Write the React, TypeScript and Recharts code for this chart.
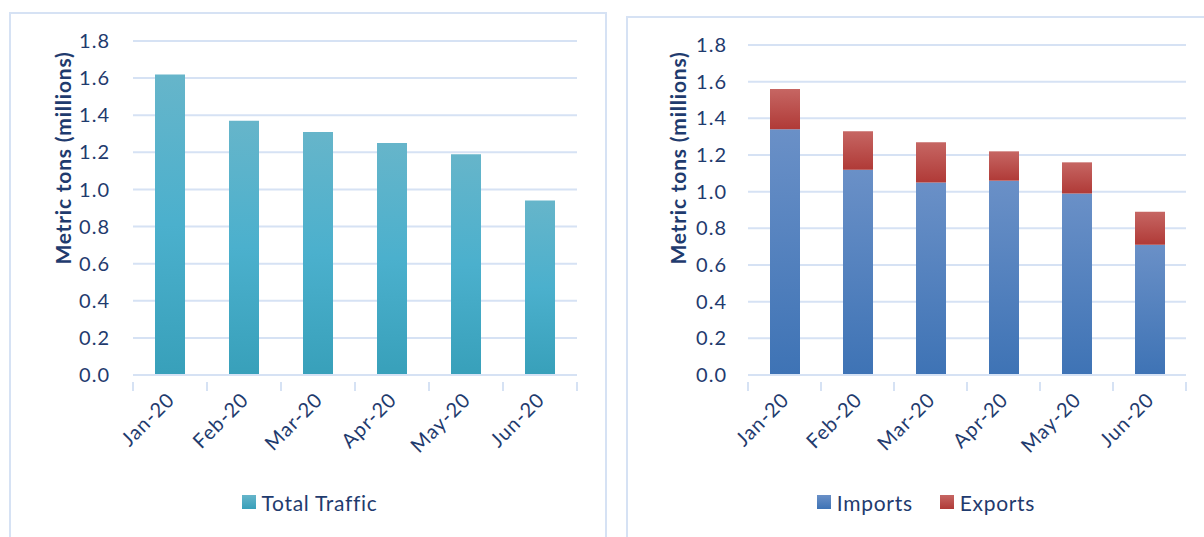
// Two panels: total traffic (left) and imports / exports stacked (right), Jan–Jun 2020.
import React from 'react';
import { BarChart, Bar, XAxis, YAxis, CartesianGrid, Legend } from 'recharts';

const months = ['Jan-20', 'Feb-20', 'Mar-20', 'Apr-20', 'May-20', 'Jun-20'];
const totalTraffic = [1.62, 1.37, 1.31, 1.25, 1.19, 0.94];
const imports = [1.34, 1.12, 1.05, 1.06, 0.99, 0.71];
const exports = [0.22, 0.21, 0.22, 0.16, 0.17, 0.18];
const yTicks = [0, 0.2, 0.4, 0.6, 0.8, 1.0, 1.2, 1.4, 1.6, 1.8];

const leftData = months.map((m, i) => ({ month: m, total: totalTraffic[i] }));
const rightData = months.map((m, i) => ({ month: m, imports: imports[i], exports: exports[i] }));

const FONT = 'Lato, "Open Sans", sans-serif';
const TEXT = '#1f3b6e';
const GRID = '#d6e2f4';

// axis tick: rotated label + boundary tick marks like Excel
const MonthTick = (props: any) => {
  const { x, y, payload, index, band } = props;
  const half = band / 2;
  const tx = x + 6;
  const ty = y + 18;
  return (
    <g>
      <line x1={x - half} y1={y - 1} x2={x - half} y2={y + 8} stroke={GRID} strokeWidth={2} />
      {index === months.length - 1 && (
        <line x1={x + half} y1={y - 1} x2={x + half} y2={y + 8} stroke={GRID} strokeWidth={2} />
      )}
      <text
        x={tx}
        y={ty}
        textAnchor="end"
        transform={`rotate(-45, ${tx}, ${ty})`}
        fill={TEXT}
        fontSize={20}
        letterSpacing={1}
        fontFamily={FONT}
      >
        {payload.value}
      </text>
    </g>
  );
};

const AxisTitle = (props: any) => {
  const { viewBox, dx, cy } = props;
  const x = viewBox.x + dx;
  return (
    <text
      x={x}
      y={cy}
      textAnchor="middle"
      dominantBaseline="central"
      transform={`rotate(-90, ${x}, ${cy})`}
      fill={TEXT}
      fontSize={21}
      letterSpacing={0.8}
      fontWeight="bold"
      fontFamily={FONT}
    >
      Metric tons (millions)
    </text>
  );
};

const LegendBox = ({ items }: { items: { label: string; grad: string }[] }) => (
  <div
    style={{
      display: 'flex',
      justifyContent: 'center',
      gap: 27,
      fontFamily: FONT,
      fontSize: 21,
      letterSpacing: 0.7,
      color: TEXT,
    }}
  >
    {items.map((it) => (
      <div key={it.label} style={{ display: 'flex', alignItems: 'flex-end', gap: 6 }}>
        <span style={{ width: 14, height: 14, background: it.grad, display: 'inline-block', marginBottom: 6 }} />
        <span>{it.label}</span>
      </div>
    ))}
  </div>
);

const panel: React.CSSProperties = {
  position: 'absolute',
  border: `2px solid ${GRID}`,
  boxSizing: 'border-box',
};

export default function App() {
  return (
    <div style={{ position: 'absolute', left: 0, top: 0, width: 1204, height: 537, background: '#fff', overflow: 'hidden' }}>
      <div style={{ ...panel, left: 9, top: 12, width: 598, height: 540 }} />
      <div style={{ ...panel, left: 626, top: 16, width: 590, height: 540 }} />

      <div style={{ position: 'absolute', left: 0, top: 0 }}>
        <BarChart width={607} height={537} data={leftData} margin={{ top: 41, right: 30, left: 53, bottom: 0 }} barSize={30}>
          <defs>
            <linearGradient id="gTotal" x1="0" y1="0" x2="0" y2="1">
              <stop offset="0%" stopColor="#66b5ca" />
              <stop offset="50%" stopColor="#4bb0cd" />
              <stop offset="100%" stopColor="#38a0ba" />
            </linearGradient>
          </defs>
          <CartesianGrid vertical={false} stroke={GRID} strokeWidth={2} />
          <XAxis
            dataKey="month"
            height={162}
            axisLine={{ stroke: GRID, strokeWidth: 2 }}
            tickLine={false}
            interval={0}
            tick={(p: any) => <MonthTick {...p} band={74} />}
          />
          <YAxis
            width={80}
            domain={[0, 1.8]}
            ticks={yTicks}
            tickFormatter={(v: number) => v.toFixed(1)}
            axisLine={false}
            tickLine={false}
            tickSize={0}
            tickMargin={23}
            tick={{ fill: TEXT, fontSize: 20, fontFamily: FONT, letterSpacing: 1 }}
            label={(p: any) => <AxisTitle {...p} dx={9} cy={158} />}
          />
          <Legend
            verticalAlign="middle"
            layout="horizontal"
            wrapperStyle={{ top: 490, left: 11, width: 597 }}
            content={() => <LegendBox items={[{ label: 'Total Traffic', grad: 'linear-gradient(#66b5ca, #38a0ba)' }]} />}
          />
          <Bar dataKey="total" name="Total Traffic" fill="url(#gTotal)" isAnimationActive={false} />
        </BarChart>
      </div>

      <div style={{ position: 'absolute', left: 620, top: 0 }}>
        <BarChart width={584} height={537} data={rightData} margin={{ top: 45, right: 18, left: 48, bottom: 0 }} barSize={30}>
          <defs>
            <linearGradient id="gImp" x1="0" y1="0" x2="0" y2="1">
              <stop offset="0%" stopColor="#6a90c7" />
              <stop offset="100%" stopColor="#3e73b5" />
            </linearGradient>
            <linearGradient id="gExp" x1="0" y1="0" x2="0" y2="1">
              <stop offset="0%" stopColor="#c66663" />
              <stop offset="100%" stopColor="#b03a37" />
            </linearGradient>
          </defs>
          <CartesianGrid vertical={false} stroke={GRID} strokeWidth={2} />
          <XAxis
            dataKey="month"
            height={162}
            axisLine={{ stroke: GRID, strokeWidth: 2 }}
            tickLine={false}
            interval={0}
            tick={(p: any) => <MonthTick {...p} band={73} />}
          />
          <YAxis
            width={80}
            domain={[0, 1.8]}
            ticks={yTicks}
            tickFormatter={(v: number) => v.toFixed(1)}
            axisLine={false}
            tickLine={false}
            tickSize={0}
            tickMargin={21}
            tick={{ fill: TEXT, fontSize: 20, fontFamily: FONT, letterSpacing: 1 }}
            label={(p: any) => <AxisTitle {...p} dx={9} cy={158} />}
          />
          <Legend
            verticalAlign="middle"
            layout="horizontal"
            wrapperStyle={{ top: 490, left: 14, width: 584 }}
            content={() => (
              <LegendBox
                items={[
                  { label: 'Imports', grad: 'linear-gradient(#6a90c7, #3e73b5)' },
                  { label: 'Exports', grad: 'linear-gradient(#c66663, #b03a37)' },
                ]}
              />
            )}
          />
          <Bar dataKey="imports" name="Imports" stackId="a" fill="url(#gImp)" isAnimationActive={false} />
          <Bar dataKey="exports" name="Exports" stackId="a" fill="url(#gExp)" isAnimationActive={false} />
        </BarChart>
      </div>
    </div>
  );
}
